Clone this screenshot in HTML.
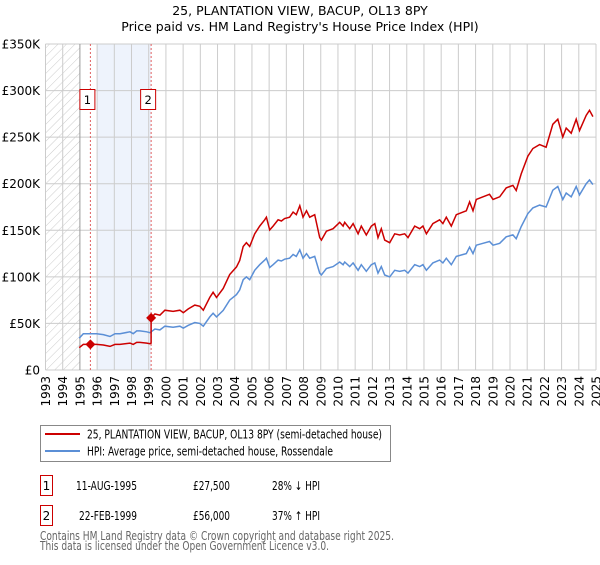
<!DOCTYPE html>
<html><head><meta charset="utf-8"><style>
body{margin:0;background:#fff;font-family:"Liberation Sans","DejaVu Sans",sans-serif;}
svg text{font-family:"DejaVu Sans","Liberation Sans",sans-serif;}
</style></head><body>
<svg id="c" width="600" height="560" viewBox="0 0 600 560" xmlns="http://www.w3.org/2000/svg">
<defs><pattern id="hatch" width="6" height="6" patternUnits="userSpaceOnUse" patternTransform="rotate(45)"><line x1="0" y1="0" x2="0" y2="6" stroke="#ccc" stroke-width="1"/></pattern></defs>
<text x="300" y="15" text-anchor="middle" font-size="12.5">25, PLANTATION VIEW, BACUP, OL13 8PY</text>
<text x="300" y="31" text-anchor="middle" font-size="12.5">Price paid vs. HM Land Registry's House Price Index (HPI)</text>
<g id="plot"></g>
<g>
<rect x="40.5" y="425.5" width="350" height="36" fill="#fff" stroke="#888"/>
<line x1="45" y1="434" x2="80" y2="434" stroke="#cc0000" stroke-width="2"/>
<text x="87" y="438.5" font-size="12" textLength="295" lengthAdjust="spacingAndGlyphs">25, PLANTATION VIEW, BACUP, OL13 8PY (semi-detached house)</text>
<line x1="45" y1="451" x2="80" y2="451" stroke="#5b8fd6" stroke-width="2"/>
<text x="87" y="455.5" font-size="12" textLength="246" lengthAdjust="spacingAndGlyphs">HPI: Average price, semi-detached house, Rossendale</text>
</g>
<g font-size="12">
<rect x="40.5" y="475.5" width="12" height="20" fill="#fff" stroke="#cc0000"/>
<text x="46.5" y="490" text-anchor="middle">1</text>
<text x="76" y="490" textLength="61" lengthAdjust="spacingAndGlyphs">11-AUG-1995</text>
<text x="193" y="490" textLength="37" lengthAdjust="spacingAndGlyphs">£27,500</text>
<text x="272" y="490" textLength="48" lengthAdjust="spacingAndGlyphs">28% ↓ HPI</text>
<rect x="40.5" y="505.5" width="12" height="20" fill="#fff" stroke="#cc0000"/>
<text x="46.5" y="520" text-anchor="middle">2</text>
<text x="79" y="520" textLength="58" lengthAdjust="spacingAndGlyphs">22-FEB-1999</text>
<text x="193" y="520" textLength="37" lengthAdjust="spacingAndGlyphs">£56,000</text>
<text x="272" y="520" textLength="48" lengthAdjust="spacingAndGlyphs">37% ↑ HPI</text>
</g>
<text x="40" y="540" font-size="12" fill="#666" textLength="354" lengthAdjust="spacingAndGlyphs">Contains HM Land Registry data © Crown copyright and database right 2025.</text>
<text x="40" y="550" font-size="12" fill="#666" textLength="289" lengthAdjust="spacingAndGlyphs">This data is licensed under the Open Government Licence v3.0.</text>
</svg>
<script>
const hpiYears=[1994.96,1995.2,1995.39,1995.97,1996.36,1996.75,1997.04,1997.33,1997.91,1998.1,1998.3,1998.49,1998.88,1999.07,1999.36,1999.65,1999.94,2000.42,2000.81,2001.01,2001.3,2001.68,2001.97,2002.17,2002.55,2002.74,2002.94,2003.33,2003.71,2004.1,2004.29,2004.49,2004.68,2004.87,2005.16,2005.45,2005.74,2005.84,2006.03,2006.23,2006.52,2006.71,2006.9,2007.19,2007.39,2007.58,2007.78,2007.97,2008.17,2008.36,2008.65,2008.94,2009.04,2009.33,2009.72,2010.1,2010.3,2010.39,2010.68,2010.88,2011.17,2011.36,2011.65,2011.94,2012.14,2012.33,2012.52,2012.72,2013.01,2013.3,2013.59,2013.88,2014.07,2014.46,2014.75,2014.94,2015.14,2015.52,2015.91,2016.1,2016.3,2016.59,2016.88,2017.27,2017.46,2017.65,2017.85,2018.04,2018.43,2018.81,2019.01,2019.4,2019.78,2020.17,2020.36,2020.65,2021.04,2021.33,2021.72,2022.1,2022.49,2022.78,2023.07,2023.27,2023.56,2023.85,2024.04,2024.43,2024.62,2024.82];
const hpiValues=[34,39,39,39,38,36,39,39,41,39,42,42,41,40,44,43,47,46,47,45,48,51,50,47,57,61,57,64,75,81,86,97,100,97,107,113,118,120,110,113,118,117,119,120,124,122,129,120,125,120,122,104,102,109,111,116,113,116,111,115,107,113,106,113,115,104,111,102,100,107,106,107,104,113,111,113,107,115,118,115,120,113,122,124,125,132,125,134,136,138,134,136,143,145,141,154,168,174,177,175,193,197,183,190,186,197,188,200,204,199];
const saleYears=[1995.61,1999.14];
const salePrices=[27.5,56];
const yTicks=[0,50,100,150,200,250,300,350];
const yTickLabels=["£0","£50K","£100K","£150K","£200K","£250K","£300K","£350K"];
const xTicks=[1993,1994,1995,1996,1997,1998,1999,2000,2001,2002,2003,2004,2005,2006,2007,2008,2009,2010,2011,2012,2013,2014,2015,2016,2017,2018,2019,2020,2021,2022,2023,2024,2025];

const X0=45.5,X1=596,Y0=370,Y1=44;
const xs=y=>X0+(y-1993)/(2025-1993)*(X1-X0);
const ys=v=>Y0-v/350*(Y0-Y1);
const NS="http://www.w3.org/2000/svg";
const g=document.getElementById('plot');
function mk(t,a){const e=document.createElementNS(NS,t);for(const k in a)e.setAttribute(k,a[k]);g.appendChild(e);return e;}
function hpiAt(t){for(let i=0;i<hpiYears.length-1;i++){if(t>=hpiYears[i]&&t<=hpiYears[i+1]){const f=(t-hpiYears[i])/(hpiYears[i+1]-hpiYears[i]);return hpiValues[i]+f*(hpiValues[i+1]-hpiValues[i]);}}return hpiValues[0];}

let r=mk('rect',{x:X0,y:Y1,width:xs(1995)-X0,height:Y0-Y1,fill:'url(#hatch)'});


r=mk('rect',{x:xs(1996),y:Y1,width:xs(saleYears[1])-xs(1996),height:Y0-Y1,fill:'#eef3fc'});


yTicks.forEach((v,i)=>{
 const l=mk('line',{x1:X0,x2:X1,y1:ys(v),y2:ys(v),stroke:'#ccc','stroke-width':1});
 
 
 const t=mk('text',{x:40,y:ys(v)+4.5,'text-anchor':'end','font-size':12});
 t.textContent=yTickLabels[i];
 
 
});
xTicks.forEach(yr=>{
 const l=mk('line',{x1:xs(yr),x2:xs(yr),y1:Y1,y2:Y0,stroke:yr===1995?'#999':'#ccc','stroke-width':1});
 
 
 const t=mk('text',{x:0,y:0,'font-size':12,'text-anchor':'end',transform:`translate(${xs(yr)+4.5},376) rotate(-90)`});
 t.textContent=yr;
 
 
});
saleYears.forEach((s,i)=>{
 const l=mk('line',{x1:xs(s),x2:xs(s),y1:Y1,y2:Y0,stroke:'#e06060','stroke-width':1,'stroke-dasharray':'2,2'});
 
 
 const b=mk('rect',{x:xs(s)-10.5,y:89.5,width:15,height:20,fill:'#fff',stroke:'#cc0000'});
 
 
 const t=mk('text',{x:xs(s)-3,y:104,'font-size':11.5,'text-anchor':'middle'});
 t.textContent=String(i+1);
 
 
});
let d=hpiYears.map((y,i)=>(i?'L':'M')+xs(y).toFixed(1)+','+ys(hpiValues[i]).toFixed(1)).join('');
let p=mk('path',{d:d,fill:'none',stroke:'#5b8fd6','stroke-width':1.5});


const pts=[];
const base1=hpiAt(saleYears[0]),base2=hpiAt(saleYears[1]);
hpiYears.forEach((y,i)=>{if(y<saleYears[1])pts.push([y,salePrices[0]*hpiValues[i]/base1]);});
pts.push([saleYears[1],salePrices[0]*base2/base1]);
pts.push([saleYears[1],salePrices[1]]);
hpiYears.forEach((y,i)=>{if(y>saleYears[1])pts.push([y,salePrices[1]*hpiValues[i]/base2]);});
d=pts.map((q,i)=>(i?'L':'M')+xs(q[0]).toFixed(1)+','+ys(q[1]).toFixed(1)).join('');
p=mk('path',{d:d,fill:'none',stroke:'#cc0000','stroke-width':1.5});


saleYears.forEach((s,i)=>{
 const cx=xs(s),cy=ys(salePrices[i]);
 const m=mk('polygon',{points:`${cx},${cy-5} ${cx+5},${cy} ${cx},${cy+5} ${cx-5},${cy}`,fill:'#cc0000'});
 
 
});
</script>
</body></html>
